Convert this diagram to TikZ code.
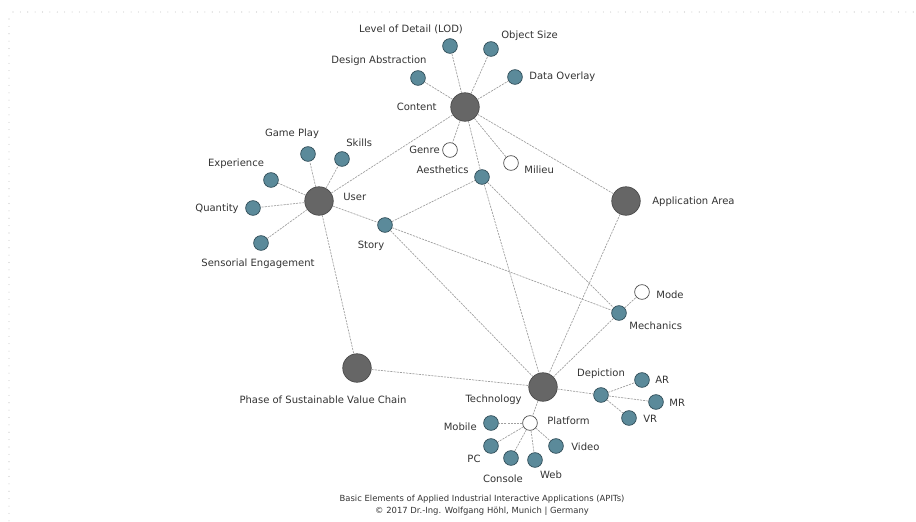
\documentclass[tikz,border=0pt]{standalone}
\usepackage{fontspec}
\setmainfont{DejaVu Sans}
\definecolor{hubfill}{HTML}{666666}
\definecolor{hubline}{HTML}{4A4A4A}
\definecolor{leaffill}{HTML}{5B8A9A}
\definecolor{leafline}{HTML}{2F4B56}
\definecolor{linkgray}{HTML}{A0A0A0}
\definecolor{txtgray}{HTML}{333333}
\definecolor{framegray}{HTML}{C4C4C4}

\begin{document}
\begin{tikzpicture}[x=0.02cm, y=-0.02cm,
        hub/.style={circle, draw=hubline, fill=hubfill, minimum size=5.7mm, inner sep=0pt},
        leaf/.style={circle, draw=leafline, fill=leaffill, minimum size=2.95mm, inner sep=0pt},
        hollow/.style={circle, draw=hubline, fill=white, minimum size=2.95mm, inner sep=0pt},
        lbl/.style={font=\fontsize{5.7pt}{6.5pt}\selectfont, text=txtgray, inner sep=0pt},
        link/.style={draw=linkgray, line width=0.4pt, dash pattern=on 1.2pt off 0.6pt}]
        \useasboundingbox (0,0) rectangle (916,521);
        \draw[framegray, line width=0.6pt, line cap=round, dash pattern=on 0pt off 4.2pt] (13,12) -- (916,12);
        \draw[framegray, line width=0.6pt, line cap=round, dash pattern=on 0pt off 4.2pt] (9,19) -- (9,521);

        % main elements
        \begin{scope}[every node/.style={hub}]
            \node (content) at (465,107) {};
            \node (user) at (319,201) {};
            \node (area) at (626,201) {};
            \node (phase) at (357,368) {};
            \node (tech) at (543,387) {};
        \end{scope}

        % sub elements
        \begin{scope}[every node/.style={leaf}]
            \node (lod) at (450,46) {};
            \node (size) at (491,49) {};
            \node (overlay) at (515,77) {};
            \node (abstr) at (418,78) {};
            \node (aesth) at (482,177) {};
            \node (play) at (308,154) {};
            \node (skills) at (342,159) {};
            \node (exper) at (271,180) {};
            \node (quant) at (253,208) {};
            \node (sens) at (261,243) {};
            \node (story) at (385,225) {};
            \node (mech) at (619,313) {};
            \node (depic) at (601,395) {};
            \node (ar) at (642,380) {};
            \node (mr) at (656,402) {};
            \node (vr) at (629,418) {};
            \node (mobile) at (491,423) {};
            \node (pc) at (491,446) {};
            \node (console) at (511,458) {};
            \node (web) at (535,460) {};
            \node (video) at (556,446) {};
        \end{scope}

        \begin{scope}[every node/.style={hollow}]
            \node (genre) at (450,150) {};
            \node (milieu) at (511,163) {};
            \node (mode) at (642,292) {};
            \node (platf) at (530,423) {};
        \end{scope}

        % labels
        \begin{scope}[every node/.style={lbl}]
            \node (t-lod) at (411,29) {Level of Detail (LOD)};
            \node[anchor=west] (t-size) at (501,36) {Object Size};
            \node[anchor=west] (t-overlay) at (529,77) {Data Overlay};
            \node (t-abstr) at (379,61) {Design Abstraction};
            \node[anchor=east] (t-content) at (437,107) {Content};
            \node[anchor=east] (t-genre) at (440,150) {Genre};
            \node[anchor=east] (t-aesth) at (469,170) {Aesthetics};
            \node[anchor=west] (t-milieu) at (524,170) {Milieu};
            \node[anchor=west] (t-area) at (652,202) {Application Area};
            \node (t-play) at (292,134) {Game Play};
            \node[anchor=west] (t-skills) at (346,143) {Skills};
            \node (t-exper) at (236,164) {Experience};
            \node[anchor=east] (t-quant) at (239,209) {Quantity};
            \node[anchor=west] (t-user) at (343,197) {User};
            \node (t-story) at (371,246) {Story};
            \node (t-sens) at (258,264) {Sensorial Engagement};
            \node (t-phase) at (323,400) {Phase of Sustainable Value Chain};
            \node[anchor=east] (t-tech) at (522,400) {Technology};
            \node[anchor=west] (t-mode) at (656,295) {Mode};
            \node[anchor=west] (t-mech) at (629,326) {Mechanics};
            \node (t-depic) at (601,374) {Depiction};
            \node[anchor=west] (t-ar) at (655,380) {AR};
            \node[anchor=west] (t-mr) at (669,403) {MR};
            \node[anchor=west] (t-vr) at (643,419) {VR};
            \node[anchor=west] (t-platf) at (547,421) {Platform};
            \node[anchor=east] (t-mobile) at (477,427) {Mobile};
            \node (t-pc) at (474,459) {PC};
            \node (t-console) at (503,479) {Console};
            \node (t-web) at (551,475) {Web};
            \node[anchor=west] (t-video) at (571,447) {Video};
            \node[font=\fontsize{4.8pt}{6pt}\selectfont] (cap1) at (482,499) {Basic Elements of Applied Industrial Interactive Applications (APITs)};
            \node[font=\fontsize{4.8pt}{6pt}\selectfont] (cap2) at (482,511) {© 2017 Dr.-Ing. Wolfgang Höhl, Munich | Germany};
        \end{scope}

        % connections
        \draw[link] (content) -- (lod);
        \draw[link] (content) -- (size);
        \draw[link] (content) -- (overlay);
        \draw[link] (content) -- (abstr);
        \draw[link] (content) -- (genre);
        \draw[link] (content) -- (milieu);
        \draw[link] (content) -- (aesth);
        \draw[link] (content) -- (area);
        \draw[link] (content) -- (user);
        \draw[link] (user) -- (play);
        \draw[link] (user) -- (skills);
        \draw[link] (user) -- (exper);
        \draw[link] (user) -- (quant);
        \draw[link] (user) -- (sens);
        \draw[link] (user) -- (story);
        \draw[link] (user) -- (phase);
        \draw[link] (story) -- (aesth);
        \draw[link] (story) -- (mech);
        \draw[link] (story) -- (tech);
        \draw[link] (aesth) -- (tech);
        \draw[link] (aesth) -- (mech);
        \draw[link] (area) -- (tech);
        \draw[link] (mech) -- (tech);
        \draw[link] (mech) -- (mode);
        \draw[link] (phase) -- (tech);
        \draw[link] (tech) -- (depic);
        \draw[link] (depic) -- (ar);
        \draw[link] (depic) -- (mr);
        \draw[link] (depic) -- (vr);
        \draw[link] (tech) -- (platf);
        \draw[link] (platf) -- (mobile);
        \draw[link] (platf) -- (pc);
        \draw[link] (platf) -- (console);
        \draw[link] (platf) -- (web);
        \draw[link] (platf) -- (video);
    \end{tikzpicture}
\end{document}
